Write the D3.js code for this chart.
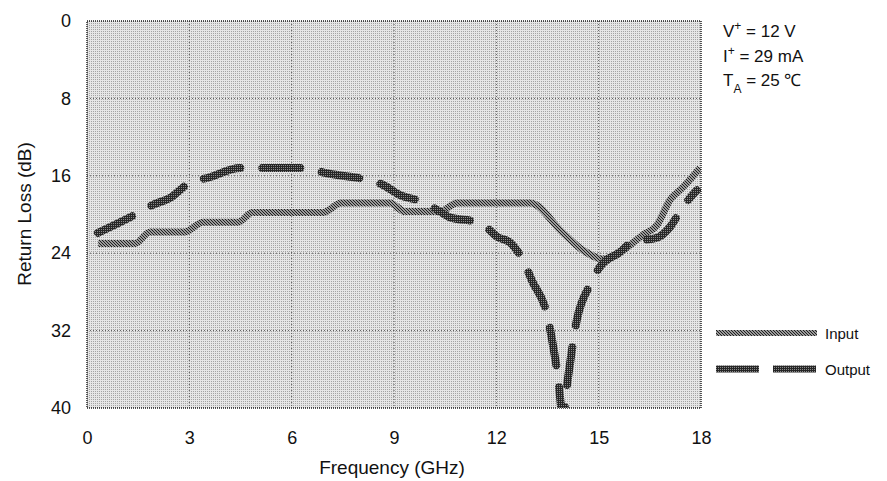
<!DOCTYPE html>
<html>
<head>
<meta charset="utf-8">
<script src="https://cdn.jsdelivr.net/npm/d3@7"></script>
<style>
  body { margin: 0; background: #fff; }
  svg { display: block; font-family: "Liberation Sans", Arial, sans-serif; }
</style>
</head>
<body>
<svg width="887" height="481"></svg>
<script>
// chart values
const xTicks = [0, 3, 6, 9, 12, 15, 18];
const yTicks = [0, 8, 16, 24, 32, 40];

const inputFreq = [0.33, 1.41, 1.85, 2.87, 3.4, 4.43, 4.85, 6.92, 7.45, 8.88, 9.32, 10.35, 10.85, 12.99, 13.95, 14.54, 15.13, 15.71, 16.3, 16.71, 17.09, 17.47, 17.97];
const inputLoss = [23.0, 23.0, 21.8, 21.8, 20.8, 20.8, 19.8, 19.8, 18.8, 18.8, 19.7, 19.7, 18.8, 18.8, 21.9, 23.7, 24.6, 23.7, 22.1, 21.1, 18.5, 17.2, 15.2];

const outputFreq = [0.32, 1.5, 1.93, 2.43, 3.02, 3.55, 4.49, 6.48, 6.98, 7.71, 8.21, 8.68, 9.18, 9.85, 10.35, 10.64, 11.46, 11.73, 12.02, 12.4, 12.78, 13.04, 13.51, 13.66, 13.8, 13.95, 14.1, 14.36, 14.74, 15.04, 15.62, 16.0, 16.71, 17.09, 17.47, 17.88];
const outputLoss = [21.9, 19.85, 19.0, 18.3, 16.7, 16.2, 15.2, 15.2, 15.7, 16.1, 16.4, 16.95, 18.0, 18.7, 19.7, 20.3, 20.8, 21.4, 22.3, 22.9, 24.7, 26.8, 30.7, 33.5, 36.6, 40.8, 36.9, 30.9, 27.3, 25.4, 23.9, 22.8, 22.4, 21.3, 19.2, 17.5];

const seriesNames = ["Input", "Output"];
const notes = [
  [["V", ""], ["+", "super"], [" = 12 V", ""]],
  [["I", ""], ["+", "super"], [" = 29 mA", ""]],
  [["T", ""], ["A", "sub"], [" = 25 \u2103", ""]],
];

const svg = d3.select("svg");
const margin = { left: 87, top: 21 };
const width = 614;
const height = 387;

const defs = svg.append("defs");

// stippled background
const bg = defs.append("pattern").attr("id", "stipple").attr("patternUnits", "userSpaceOnUse")
  .attr("width", 2).attr("height", 2);
bg.append("rect").attr("width", 2).attr("height", 2).attr("fill", "#e6e6e6");
bg.append("rect").attr("width", 1).attr("height", 1).attr("fill", "#a4a4a4");

// hatched stroke for input
const hatch = defs.append("pattern").attr("id", "hatch").attr("patternUnits", "userSpaceOnUse")
  .attr("width", 3).attr("height", 3);
hatch.append("rect").attr("width", 3).attr("height", 3).attr("fill", "#9a9a9a");
[0, 1, 2].forEach(i => {
  hatch.append("rect").attr("x", i).attr("y", i).attr("width", 1).attr("height", 1).attr("fill", "#1e1e1e");
});

// dark stipple stroke for output
const dark = defs.append("pattern").attr("id", "dark").attr("patternUnits", "userSpaceOnUse")
  .attr("width", 2).attr("height", 2);
dark.append("rect").attr("width", 2).attr("height", 2).attr("fill", "#262626");
dark.append("rect").attr("width", 1).attr("height", 1).attr("fill", "#8a8a8a");

defs.append("clipPath").attr("id", "clip")
  .append("rect").attr("width", width).attr("height", height);

const g = svg.append("g").attr("transform", `translate(${margin.left},${margin.top})`);

const x = d3.scaleLinear().domain([0, 18]).range([0, width]);
const y = d3.scaleLinear().domain([0, 40]).range([0, height]);

g.append("rect").attr("width", width).attr("height", height).attr("fill", "url(#stipple)");

// grid lines
g.selectAll(".vgrid").data(xTicks.slice(1, -1)).join("line")
  .attr("x1", d => x(d)).attr("x2", d => x(d)).attr("y1", 0).attr("y2", height)
  .attr("stroke", "#555").attr("stroke-dasharray", "1,2");
g.selectAll(".hgrid").data(yTicks.slice(1, -1)).join("line")
  .attr("y1", d => y(d)).attr("y2", d => y(d)).attr("x1", 0).attr("x2", width)
  .attr("stroke", "#555").attr("stroke-dasharray", "1,2");

// border
g.append("rect").attr("width", width).attr("height", height)
  .attr("fill", "none").attr("stroke", "#222").attr("stroke-width", 1.5).attr("stroke-dasharray", "1,1");

// axes
const xAxis = g.append("g").attr("transform", `translate(0,${height})`)
  .call(d3.axisBottom(x).tickValues(xTicks).tickSize(0).tickPadding(23));
const yAxis = g.append("g")
  .call(d3.axisLeft(y).tickValues(yTicks).tickSize(0).tickPadding(16));
[xAxis, yAxis].forEach(a => {
  a.select(".domain").remove();
  a.selectAll("text").attr("font-size", 18).attr("fill", "#111")
    .attr("font-family", "Liberation Sans, Arial, sans-serif");
});

svg.append("text").attr("x", 392).attr("y", 474).attr("text-anchor", "middle")
  .attr("font-size", 19).attr("fill", "#111").text("Frequency (GHz)");
svg.append("text").attr("transform", "translate(31,214) rotate(-90)").attr("text-anchor", "middle")
  .attr("font-size", 19).attr("fill", "#111").text("Return Loss (dB)");

// curves
const line = d3.line().x(d => x(d[0])).y(d => y(d[1])).curve(d3.curveMonotoneX);
const inputData = d3.zip(inputFreq, inputLoss);
const outputData = d3.zip(outputFreq, outputLoss);

const plot = g.append("g").attr("clip-path", "url(#clip)");
plot.append("path").datum(inputData).attr("d", line)
  .attr("fill", "none").attr("stroke", "url(#hatch)").attr("stroke-width", 7);
plot.append("path").datum(outputData).attr("d", line)
  .attr("fill", "none").attr("stroke", "url(#dark)").attr("stroke-width", 8)
  .attr("stroke-linecap", "round").attr("stroke-dasharray", "38,22");

// notes
notes.forEach((parts, i) => {
  const t = svg.append("text").attr("x", 723).attr("y", 37 + i * 24.5)
    .attr("font-size", 17).attr("fill", "#111");
  parts.forEach(([s, shift]) => {
    const ts = t.append("tspan").text(s);
    if (shift === "super") ts.attr("baseline-shift", "super").attr("font-size", 12);
    if (shift === "sub") ts.attr("baseline-shift", "sub").attr("font-size", 12);
  });
});

// legend
const legend = svg.append("g").attr("transform", "translate(716,333)");
seriesNames.forEach((name, i) => {
  const row = legend.append("g").attr("transform", `translate(0,${i * 36})`);
  row.append("line").attr("x1", 0).attr("x2", 101)
    .attr("stroke", i === 0 ? "url(#hatch)" : "url(#dark)")
    .attr("stroke-width", i === 0 ? 6 : 7)
    .attr("stroke-dasharray", i === 0 ? null : "43,14");
  row.append("text").attr("x", 109).attr("y", 6).attr("font-size", 15).attr("fill", "#111").text(name);
});
</script>
</body>
</html>
